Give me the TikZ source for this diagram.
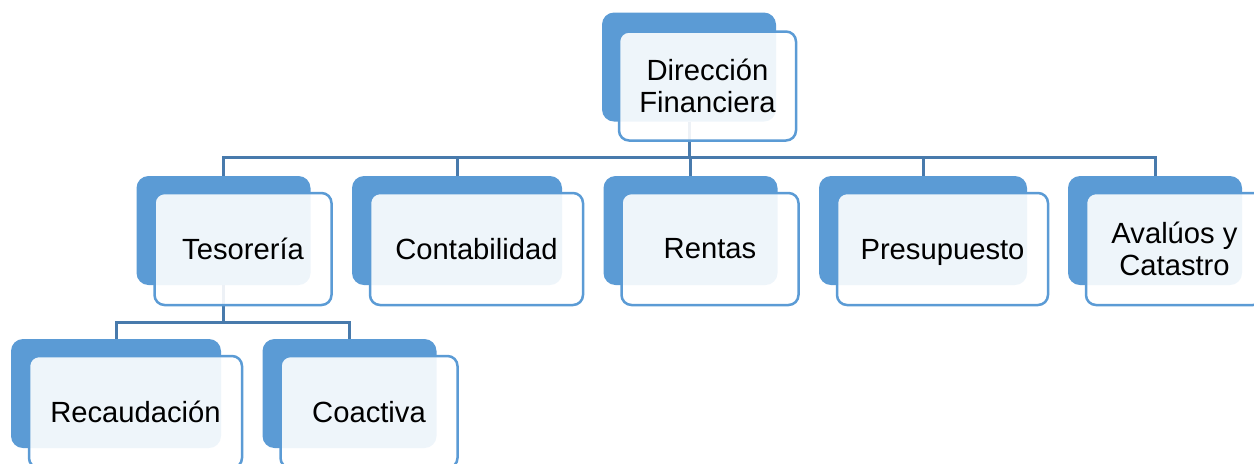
\documentclass[tikz,border=0pt]{standalone}
\usepackage{fontspec}
\setmainfont{Liberation Sans}
\definecolor{boxblue}{RGB}{91,155,213}
\definecolor{lineblue}{RGB}{72,122,172}
\usetikzlibrary{positioning}
\tikzset{
  back/.style={fill=boxblue, rounded corners=6pt, minimum height=54.5pt, inner sep=0pt},
  front/.style={draw=boxblue, line width=1.25pt, fill=white, fill opacity=0.9, text opacity=1,
    rounded corners=5pt, minimum height=56pt, align=center,
    font=\fontsize{14.6}{15.8}\selectfont},
  link/.style={draw=lineblue, line width=1.5pt}
}

\begin{document}
\begin{tikzpicture}[x=0.5pt, y=-0.5pt]
  \useasboundingbox (0,0) rectangle (1254,463);

  % back boxes
  \begin{scope}[every node/.style={back, minimum width=87pt}]
    \node (dir) at (689,67) {};
    \node (tes) at (223.5,230.5) {};
    \node [minimum width=105pt] (con) at (457,230.5) {};
    \node (ren) at (690.5,230.5) {};
    \node [minimum width=104pt] (pre) at (923,230.5) {};
    \node (ava) at (1155,230.5) {};
    \node [minimum width=105pt] (rec) at (116,393.5) {};
    \node (coa) at (349.5,393.5) {};
  \end{scope}

  % connectors
  \foreach \n in {tes,con,ren,pre,ava}
    \draw [link] (dir.south) -- ++(0,36) -| (\n.north);
  \foreach \n in {rec,coa}
    \draw [link] (tes.south) -- ++(0,37) -| (\n.north);

  % front boxes
  \begin{scope}[every node/.style={front, minimum width=88.5pt}]
    \node [minimum height=54.5pt] (dirf) at ([shift={(18.5,19)}]dir.center) {Dirección\\Financiera};
    \node (tesf) at ([shift={(19.5,18.5)}]tes.center) {Tesorería};
    \node [minimum width=106.5pt] (conf) at ([shift={(19.5,18.5)}]con.center) {Contabilidad};
    \node (renf) at ([shift={(19.5,18.5)}]ren.center) {Rentas};
    \node [minimum width=105.5pt, text depth=0pt] (pref) at ([shift={(19.5,18.5)}]pre.center) {Presupuesto};
    \node (avaf) at ([shift={(19.5,18.5)}]ava.center) {Avalúos y\\Catastro};
    \node [minimum width=106.5pt] (recf) at ([shift={(19.5,18.5)}]rec.center) {Recaudación};
    \node (coaf) at ([shift={(19.5,18.5)}]coa.center) {Coactiva};
  \end{scope}
\end{tikzpicture}
\end{document}
